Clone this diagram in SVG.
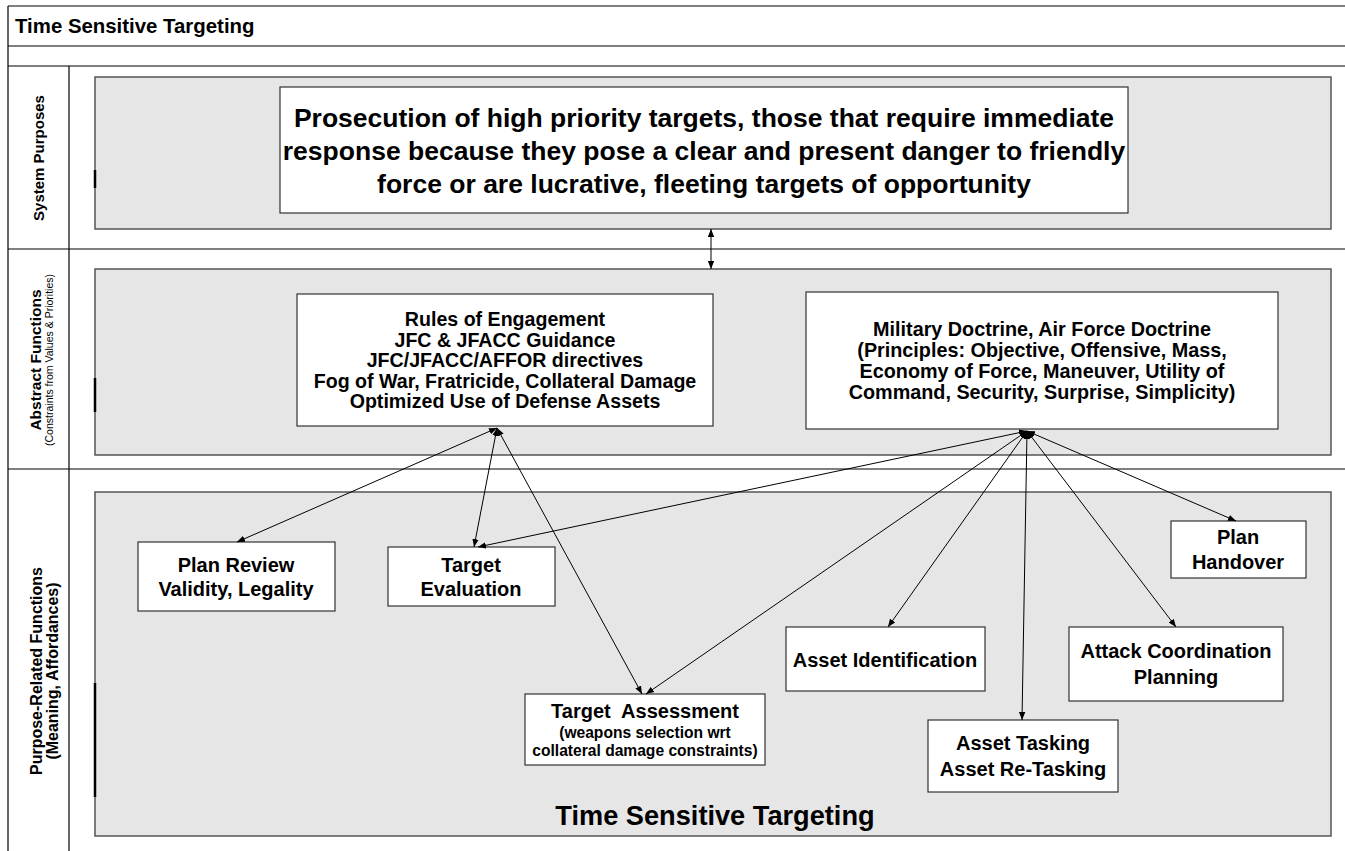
<svg xmlns="http://www.w3.org/2000/svg" width="1345" height="851" viewBox="0 0 1345 851">
<defs>
<style>
.frame{stroke:#000;stroke-width:1.2;fill:none}
.panel{fill:#e6e6e6;stroke:#555;stroke-width:1.5}
.box{fill:#fff;stroke:#333;stroke-width:1.2}
.tick{stroke:#000;stroke-width:2.5}
text{font-family:"Liberation Sans",Arial,sans-serif;fill:#000}
.b{font-weight:bold}
.c{text-anchor:middle}
.conn line{stroke:#000;stroke-width:1;marker-start:url(#ah);marker-end:url(#ah)}
</style>
<marker id="ah" viewBox="0 0 10 10" refX="10" refY="5" markerWidth="8" markerHeight="8" markerUnits="userSpaceOnUse" orient="auto-start-reverse">
<path d="M0,1 L10,5 L0,9 Z" fill="#000"/>
</marker>
</defs>
<rect width="1345" height="851" fill="#fff"/>
<g id="frame">
<line class="frame" x1="8" y1="6" x2="1345" y2="6"/>
<line class="frame" x1="8" y1="46" x2="1345" y2="46"/>
<line class="frame" x1="8" y1="66" x2="1345" y2="66"/>
<line class="frame" x1="8" y1="249" x2="1345" y2="249"/>
<line class="frame" x1="8" y1="469" x2="1345" y2="469"/>
<line class="frame" x1="8" y1="6" x2="8" y2="851"/>
<line class="frame" x1="69" y1="66" x2="69" y2="851"/>
<text class="b" x="15" y="33" font-size="20.4">Time Sensitive Targeting</text>
</g>
<g id="lane-labels">
<text class="b c" font-size="15" transform="translate(44,158) rotate(-90)">System Purposes</text>
<text class="b c" font-size="15.5" transform="translate(41,360) rotate(-90)">Abstract Functions</text>
<text class="c" font-size="10.5" transform="translate(53,360) rotate(-90)">(Constraints from Values &amp; Priorities)</text>
<text class="b c" font-size="16" transform="translate(42,671) rotate(-90)">Purpose-Related Functions</text>
<text class="b c" font-size="16" transform="translate(58,671) rotate(-90)">(Meaning, Affordances)</text>
</g>
<g id="panels">
<rect class="panel" x="95" y="77" width="1236" height="152"/>
<rect class="panel" x="95" y="269" width="1236" height="186"/>
<rect class="panel" x="95" y="492" width="1236" height="344"/>
<line class="tick" x1="95" y1="170" x2="95" y2="188"/>
<line class="tick" x1="95" y1="378" x2="95" y2="412"/>
<line class="tick" x1="95" y1="683" x2="95" y2="797"/>
<text class="b c" x="715" y="825" font-size="27.2">Time Sensitive Targeting</text>
</g>
<g id="system-purpose">
<rect class="box" x="280" y="87" width="848" height="126"/>
<text class="b c" font-size="26.5"><tspan x="704" y="127">Prosecution of high priority targets, those that require immediate</tspan><tspan x="704" y="160">response because they pose a clear and present danger to friendly</tspan><tspan x="704" y="193">force or are lucrative, fleeting targets of opportunity</tspan></text>
</g>
<g id="roe">
<rect class="box" x="297" y="294" width="416" height="132"/>
<text class="b c" font-size="19.6"><tspan x="505" y="326">Rules of Engagement</tspan><tspan x="505" y="346.5">JFC &amp; JFACC Guidance</tspan><tspan x="505" y="367">JFC/JFACC/AFFOR directives</tspan><tspan x="505" y="387.5">Fog of War, Fratricide, Collateral Damage</tspan><tspan x="505" y="408">Optimized Use of Defense Assets</tspan></text>
</g>
<g id="doctrine">
<rect class="box" x="806" y="292" width="472" height="137"/>
<text class="b c" font-size="19.8"><tspan x="1042" y="336">Military Doctrine, Air Force Doctrine</tspan><tspan x="1042" y="357">(Principles: Objective, Offensive, Mass,</tspan><tspan x="1042" y="378">Economy of Force, Maneuver, Utility of</tspan><tspan x="1042" y="399">Command, Security, Surprise, Simplicity)</tspan></text>
</g>
<g id="plan-review">
<rect class="box" x="138" y="542" width="197" height="69"/>
<text class="b c" font-size="20"><tspan x="236" y="572">Plan Review</tspan><tspan x="236" y="596">Validity, Legality</tspan></text>
</g>
<g id="target-evaluation">
<rect class="box" x="388" y="547" width="167" height="59"/>
<text class="b c" font-size="20"><tspan x="471" y="572">Target</tspan><tspan x="471" y="596">Evaluation</tspan></text>
</g>
<g id="target-assessment">
<rect class="box" x="525" y="694" width="240" height="71"/>
<text class="b c" font-size="20" x="645" y="718" xml:space="preserve">Target  Assessment</text>
<text class="b c" font-size="15.6"><tspan x="645" y="738">(weapons selection wrt</tspan><tspan x="645" y="756">collateral damage constraints)</tspan></text>
</g>
<g id="asset-identification">
<rect class="box" x="786" y="627" width="199" height="64"/>
<text class="b c" font-size="20" x="885" y="667">Asset Identification</text>
</g>
<g id="asset-tasking">
<rect class="box" x="928" y="720" width="190" height="72"/>
<text class="b c" font-size="20"><tspan x="1023" y="750">Asset Tasking</tspan><tspan x="1023" y="776">Asset Re-Tasking</tspan></text>
</g>
<g id="attack-coordination">
<rect class="box" x="1069" y="627" width="214" height="74"/>
<text class="b c" font-size="20"><tspan x="1176" y="658">Attack Coordination</tspan><tspan x="1176" y="684">Planning</tspan></text>
</g>
<g id="plan-handover">
<rect class="box" x="1171" y="521" width="135" height="57"/>
<text class="b c" font-size="20"><tspan x="1238" y="544">Plan</tspan><tspan x="1238" y="569">Handover</tspan></text>
</g>
<g id="connectors" class="conn">
<line x1="711" y1="229" x2="711" y2="269"/>
<line x1="497" y1="428" x2="237" y2="542"/>
<line x1="497" y1="428" x2="474" y2="547"/>
<line x1="497" y1="428" x2="642" y2="694"/>
<line x1="1027" y1="431" x2="478" y2="547"/>
<line x1="1027" y1="431" x2="646" y2="694"/>
<line x1="1027" y1="431" x2="888" y2="627"/>
<line x1="1027" y1="431" x2="1022" y2="720"/>
<line x1="1027" y1="431" x2="1176" y2="627"/>
<line x1="1027" y1="431" x2="1236" y2="521"/>
</g>
</svg>
